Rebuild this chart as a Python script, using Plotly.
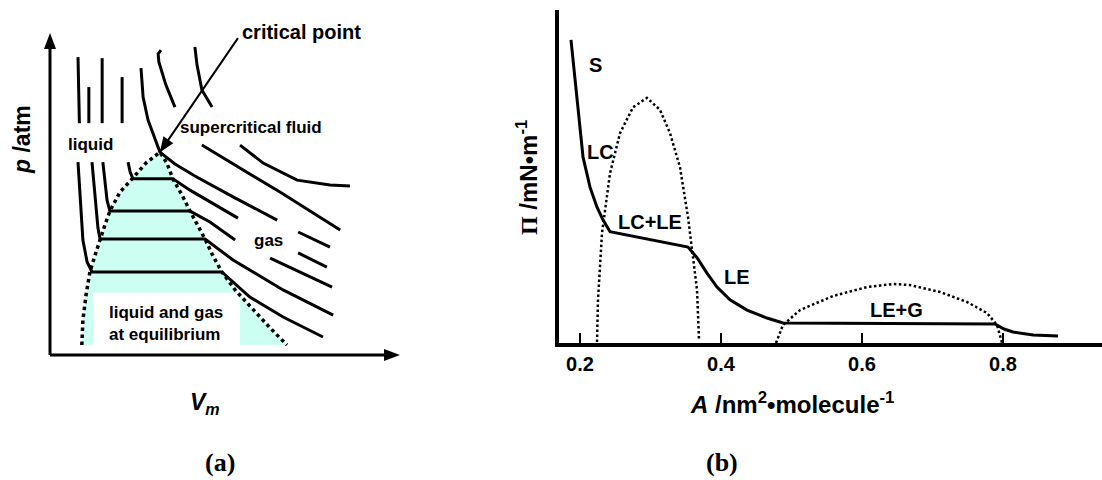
import plotly.graph_objects as go

# ================= Panel (a): p - V_m isotherms (schematic, arbitrary units) =================
# coexistence (binodal) curve, left branch -> critical point -> right branch
binodal_V = [0.91, 0.94, 1.03, 1.14, 1.29, 1.43, 1.57, 1.71, 2.00, 2.37, 2.74, 3.14,
             3.34, 3.51, 3.77, 4.00, 4.23, 4.43, 4.66, 4.91, 5.29, 5.80, 6.29, 6.77]
binodal_p = [0.31, 1.09, 1.86, 2.58, 3.11, 3.60, 4.04, 4.47, 5.06, 5.50, 5.96, 6.30,
             5.96, 5.47, 4.97, 4.47, 4.01, 3.60, 3.07, 2.58, 2.02, 1.40, 0.84, 0.31]
critical_V = 3.14
critical_p = 6.30
critical_label_V = 5.37
critical_label_p = 9.84

# label box "liquid and gas at equilibrium" (V range, p range)
eqbox_V = [1.23, 5.43]
eqbox_p = [0.31, 1.93]

# isotherms (None = gap left for labels)
iso_sc2_V = [4.14, 4.20, 4.34, 4.63, None, 5.43, 6.09, 7.06, 8.00, 8.57]
iso_sc2_p = [9.57, 9.01, 8.23, 7.70, None, 6.52, 5.96, 5.43, 5.28, 5.25]
iso_sc1_V = [3.17, 3.09, 3.11, 3.31, 3.57, None, 4.34, 5.14, 6.57, 8.29]
iso_sc1_p = [9.47, 9.35, 9.10, 8.39, 7.70, None, 6.52, 5.99, 5.06, 3.88]
iso_c_V = [2.60, 2.66, 2.80, 3.00, 3.14, 3.57, 4.14, 5.23, 6.49, None, 7.09, 8.00]
iso_c_p = [8.91, 8.01, 7.30, 6.68, 6.30, 5.93, 5.56, 4.91, 4.19, None, 3.82, 3.35]
iso_1_V = [2.06, 2.06, None, 2.23, 2.29, 2.37, 3.51, 4.00, 4.57, 5.37, None, 7.09, 7.91]
iso_1_p = [8.63, 7.20, None, 5.99, 5.68, 5.47, 5.47, 5.12, 4.75, 4.25, None, 3.17, 2.73]
iso_2_V = [1.49, 1.49, None, 1.51, 1.57, 1.63, 1.71, 4.00, 4.57, 5.29, None, 6.29, 7.14, 8.06]
iso_2_p = [9.22, 7.20, None, 5.99, 5.28, 4.81, 4.47, 4.47, 4.13, 3.57, None, 3.01, 2.58, 2.11]
iso_3_V = [1.11, 1.11, None, 1.20, 1.29, 1.37, 1.43, 4.43, 5.23, 6.66, 8.09]
iso_3_p = [8.32, 7.20, None, 5.99, 4.81, 3.94, 3.60, 3.60, 2.95, 2.02, 1.24]
iso_4_V = [0.80, 0.84, None, 0.80, 0.86, 0.94, 1.06, 1.20, 4.91, 5.71, 6.66, 7.80]
iso_4_p = [9.25, 7.20, None, 5.99, 4.81, 3.57, 2.89, 2.58, 2.58, 1.80, 1.18, 0.56]

# ================= Panel (b): Pi - A isotherm of a monolayer =================
A_ticks = [0.2, 0.4, 0.6, 0.8]
A_ticklabels = ["0.2", "0.4", "0.6", "0.8"]
iso_A = [0.1872, 0.2043, 0.2142, 0.2241, 0.2326, 0.2426, 0.3532, 0.3660, 0.3801, 0.3943,
         0.4128, 0.4369, 0.4652, 0.4879, 0.7887, 0.8014, 0.8142, 0.8426, 0.8780]
iso_Pi = [45.5, 27.9, 23.4, 20.4, 18.5, 16.7, 14.4, 12.8, 10.5, 8.4,
          6.5, 4.95, 3.75, 3.0, 2.85, 2.1, 1.65, 1.2, 1.05]
domeLC_A = [0.2241, 0.2255, 0.2312, 0.2426, 0.2567, 0.2752, 0.2950, 0.3135, 0.3277,
            0.3418, 0.3532, 0.3589, 0.3660, 0.3688]
domeLC_Pi = [0.15, 6.46, 16.5, 25.5, 31.5, 35.4, 36.8, 35.0, 31.5, 26.4, 18.9, 14.4, 7.96, 0.45]
domeLEG_A = [0.4780, 0.4879, 0.5121, 0.5589, 0.6071, 0.6440, 0.6681, 0.7106, 0.7489,
             0.7773, 0.7915, 0.7986]
domeLEG_Pi = [0.0, 2.7, 4.95, 7.06, 8.4, 8.86, 8.7, 7.66, 6.16, 4.5, 2.7, 0.0]
phase_labels = ["S", "LC", "LC+LE", "LE", "LE+G"]
phase_A = [0.2213, 0.2284, 0.2993, 0.4227, 0.6496]
phase_Pi = [41.7, 28.7, 18.2, 9.9, 4.95]

SANS = "Liberation Sans, Arial, sans-serif"
SERIF = "Liberation Serif, Times New Roman, serif"
W, H = 1102, 480

# panel (a) frame: axes from 0 to 10 with a small pad so arrows are not clipped
PAD = 0.4
AX_X0, AX_X1 = 50, 400      # pixel positions of V = 0 and V = 10
AX_Y0, AX_Y1 = 355, 33      # pixel positions of p = 0 and p = 10
ux = (AX_X1 - AX_X0) / 10.0
uy = (AX_Y0 - AX_Y1) / 10.0

fig = go.Figure()

# ---- panel (a) ----
fig.add_trace(go.Scatter(x=binodal_V, y=binodal_p, mode="lines", fill="toself",
                         fillcolor="#ccfff2", line=dict(width=0), hoverinfo="skip",
                         xaxis="x", yaxis="y"))
fig.add_trace(go.Scatter(x=[eqbox_V[0], eqbox_V[1], eqbox_V[1], eqbox_V[0], eqbox_V[0]],
                         y=[eqbox_p[0], eqbox_p[0], eqbox_p[1], eqbox_p[1], eqbox_p[0]],
                         mode="lines", fill="toself", fillcolor="white",
                         line=dict(width=0), hoverinfo="skip", xaxis="x", yaxis="y"))
fig.add_trace(go.Scatter(x=binodal_V, y=binodal_p, mode="lines",
                         line=dict(color="black", width=3.5, dash="dot"),
                         hoverinfo="skip", xaxis="x", yaxis="y"))
for vv, pp in [(iso_sc2_V, iso_sc2_p), (iso_sc1_V, iso_sc1_p), (iso_c_V, iso_c_p),
               (iso_1_V, iso_1_p), (iso_2_V, iso_2_p), (iso_3_V, iso_3_p),
               (iso_4_V, iso_4_p)]:
    fig.add_trace(go.Scatter(x=vv, y=pp, mode="lines", connectgaps=False,
                             line=dict(color="black", width=3),
                             hoverinfo="skip", xaxis="x", yaxis="y"))

# ---- panel (b) ----
fig.add_trace(go.Scatter(x=domeLC_A, y=domeLC_Pi, mode="lines",
                         line=dict(color="black", width=2.5, dash="2.5px,2.5px"),
                         hoverinfo="skip", xaxis="x2", yaxis="y2"))
fig.add_trace(go.Scatter(x=domeLEG_A, y=domeLEG_Pi, mode="lines",
                         line=dict(color="black", width=2.5, dash="2.5px,2.5px"),
                         hoverinfo="skip", xaxis="x2", yaxis="y2"))
fig.add_trace(go.Scatter(x=iso_A, y=iso_Pi, mode="lines",
                         line=dict(color="black", width=3),
                         hoverinfo="skip", xaxis="x2", yaxis="y2"))

# ---- arrows of panel (a) as shapes (axes + critical-point pointer) ----
shapes = [
    dict(type="line", xref="x", yref="y", x0=0, y0=0, x1=0, y1=9.6,
         line=dict(color="black", width=3)),
    dict(type="path", xref="x", yref="y", xsizemode="pixel", ysizemode="pixel",
         xanchor=0, yanchor=10, path="M-6,-16 L6,-16 L0,0 Z",
         fillcolor="black", line=dict(width=0)),
    dict(type="line", xref="x", yref="y", x0=0, y0=0, x1=9.6, y1=0,
         line=dict(color="black", width=3)),
    dict(type="path", xref="x", yref="y", xsizemode="pixel", ysizemode="pixel",
         xanchor=10, yanchor=0, path="M-16,-6 L-16,6 L0,0 Z",
         fillcolor="black", line=dict(width=0)),
    dict(type="line", xref="x", yref="y", x0=critical_label_V, y0=critical_label_p,
         x1=critical_V, y1=critical_p, line=dict(color="black", width=2)),
    dict(type="path", xref="x", yref="y", xsizemode="pixel", ysizemode="pixel",
         xanchor=critical_V, yanchor=critical_p, path="M0,0 L13.4,9.0 L3.5,15.8 Z",
         fillcolor="black", line=dict(width=0)),
]

def pann(px, py, text, size, family=SANS, angle=0):
    return dict(x=px / W, y=(H - py) / H, xref="paper", yref="paper",
                xanchor="center", yanchor="middle", text=text, textangle=angle,
                showarrow=False, font=dict(family=family, size=size, color="black"))

ann = []
ann.append(pann(301, 32, "<b>critical point</b>", 20))
ann.append(dict(x=5.74, y=7.05, xref="x", yref="y", text="<b>supercritical fluid</b>",
                showarrow=False, font=dict(family=SANS, size=17, color="black")))
ann.append(dict(x=1.17, y=6.55, xref="x", yref="y", text="<b>liquid</b>",
                showarrow=False, font=dict(family=SANS, size=17, color="black")))
ann.append(dict(x=6.23, y=3.57, xref="x", yref="y", text="<b>gas</b>",
                showarrow=False, font=dict(family=SANS, size=17, color="black")))
ann.append(dict(x=3.31, y=0.99, xref="x", yref="y",
                text="<b>liquid and gas<br>at equilibrium</b>", align="left",
                showarrow=False, font=dict(family=SANS, size=17, color="black")))
ann.append(pann(22, 140, "<b><i>p</i> /atm</b>", 23, angle=-90))
ann.append(pann(205, 403, "<b><i>V<sub>m</sub></i></b>", 23))
ann.append(pann(220, 462, "<b>(a)</b>", 26, family=SERIF))
for t, a, p in zip(phase_labels, phase_A, phase_Pi):
    ann.append(dict(x=a, y=p, xref="x2", yref="y2", text="<b>" + t + "</b>",
                    showarrow=False, font=dict(family=SANS, size=20, color="black")))
ann.append(pann(527, 178,
                '<b><span style="font-family:Liberation Serif">\u03a0</span> /mN\u2022m<sup>-1</sup></b>',
                24, angle=-90))
ann.append(pann(792, 403, "<b><i>A</i> /nm<sup>2</sup>\u2022molecule<sup>-1</sup></b>", 24))
ann.append(pann(722, 462, "<b>(b)</b>", 26, family=SERIF))

fig.update_layout(
    width=W, height=H,
    margin=dict(l=0, r=0, t=0, b=0),
    paper_bgcolor="white", plot_bgcolor="rgba(0,0,0,0)",
    showlegend=False,
    xaxis=dict(domain=[(AX_X0 - PAD * ux) / W, (AX_X1 + PAD * ux) / W],
               range=[-PAD, 10 + PAD], visible=False),
    yaxis=dict(domain=[(H - AX_Y0 - PAD * uy) / H, (H - AX_Y1 + PAD * uy) / H],
               range=[-PAD, 10 + PAD], visible=False),
    xaxis2=dict(domain=[559 / W, 1.0], range=[0.1702, 0.9404], anchor="y2",
                showline=True, linewidth=4, linecolor="black", mirror=False,
                ticks="inside", ticklen=10, tickwidth=2, tickcolor="black",
                tickvals=A_ticks, ticktext=["<b>" + s + "</b>" for s in A_ticklabels],
                tickfont=dict(family=SANS, size=20, color="black"),
                showgrid=False, zeroline=False),
    yaxis2=dict(domain=[137 / H, 470 / H], range=[0, 50], anchor="x2",
                showline=True, linewidth=4, linecolor="black",
                showticklabels=False, ticks="", showgrid=False, zeroline=False),
    annotations=ann,
    shapes=shapes,
)

fig.write_html("out.html")
